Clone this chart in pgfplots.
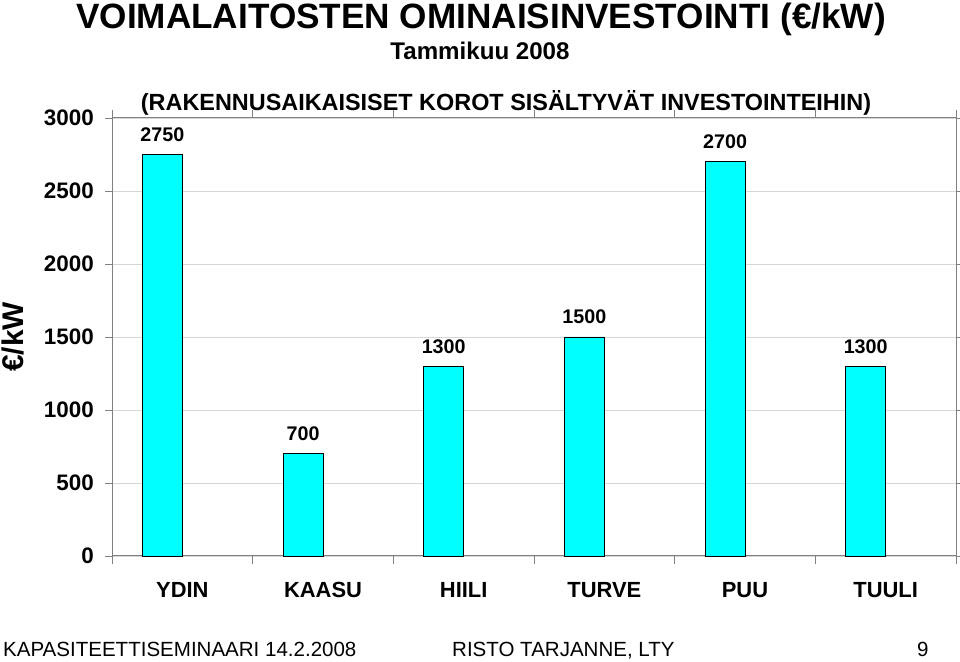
\documentclass[border=0pt]{standalone}
\usepackage{pgfplots}
\pgfplotsset{compat=1.18}
\usepackage{fontspec}
\setmainfont{Liberation Sans}

\definecolor{barcyan}{RGB}{0,255,255}
\definecolor{framegray}{RGB}{128,128,128}
\definecolor{gridgray}{RGB}{215,215,215}

\begin{document}
\begin{tikzpicture}[x=1bp,y=1bp]
\useasboundingbox (0,0) rectangle (960,662);

% axis box: x 112..956, y 106..544 measured from the bottom
\begin{axis}[
    at={(112bp,106bp)}, anchor=south west,
    scale only axis,
    width=844bp, height=438bp,
    ybar,
    bar width=0.284,
    bar shift=-0.142,
    xmin=-0.5, xmax=5.5,
    ymin=0, ymax=3000,
    ytick={0,500,...,3000},
    xtick={0,...,5},
    xticklabels={YDIN,KAASU,HIILI,TURVE,PUU,TUULI},
    minor xtick={-0.5,0.5,...,5.5},
    tick align=outside,
    major tick length=7bp,
    minor tick length=8bp,
    x tick style={draw=none},
    minor x tick style={draw=framegray, line width=0.6pt},
    y tick style={draw=framegray, line width=0.6pt},
    ymajorgrids,
    major grid style={gridgray, line width=0.8pt},
    axis line style={framegray, line width=1pt},
    /pgf/number format/assume math mode=true,
    /pgf/number format/1000 sep={},
    yticklabel style={font=\fontsize{22.5}{24}\selectfont\bfseries, inner sep=0pt, xshift=-11bp},
    xticklabel style={font=\fontsize{22}{24}\selectfont\bfseries, inner sep=0pt, anchor=base, yshift=-35bp},
    nodes near coords,
    every node near coord/.append style={font=\fontsize{19.8}{22}\selectfont\bfseries, anchor=base, yshift=13bp},
    clip=false,
]
\addplot[fill=barcyan, draw=black, line width=0.9pt] coordinates {
    (0,2750) (1,700) (2,1300) (3,1500) (4,2700) (5,1300)
};
\end{axis}

\node[anchor=base, font=\fontsize{35.3}{40}\selectfont\bfseries] at (481,633) {VOIMALAITOSTEN OMINAISINVESTOINTI (€/kW)};
\node[anchor=base, font=\fontsize{24.2}{26}\selectfont\bfseries] at (480,602) {Tammikuu 2008};
\node[anchor=base, font=\fontsize{23.5}{26}\selectfont\bfseries] at (506,551) {(RAKENNUSAIKAISISET KOROT SISÄLTYVÄT INVESTOINTEIHIN)};
\node[rotate=90, font=\fontsize{30}{34}\selectfont\bfseries] at (13,325) {€/kW};

\node[anchor=base west, inner sep=0pt, font=\fontsize{20.6}{24}\selectfont] at (3,5) {KAPASITEETTISEMINAARI 14.2.2008};
\node[anchor=base west, inner sep=0pt, font=\fontsize{20.6}{24}\selectfont] at (452,5) {RISTO TARJANNE, LTY};
\node[anchor=base west, inner sep=0pt, font=\fontsize{20.6}{24}\selectfont] at (917,5) {9};
\end{tikzpicture}
\end{document}
